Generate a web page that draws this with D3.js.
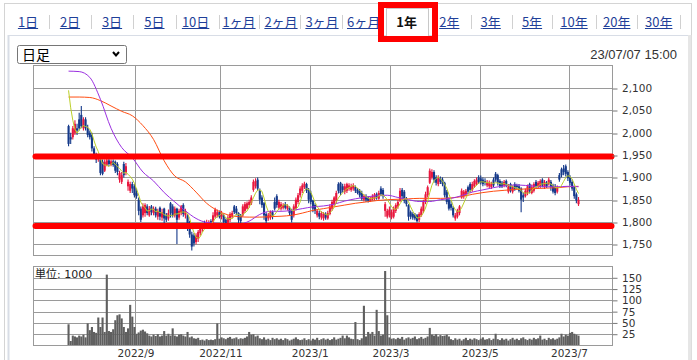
<!DOCTYPE html>
<html><head><meta charset="utf-8">
<script src="https://cdn.jsdelivr.net/npm/d3@7"></script>
<style>body{margin:0;background:#fff}svg{display:block}</style>
</head><body>
<script>
// ---- data ----
const tabLabels = ["1日","2日","3日","5日","10日","1ヶ月","2ヶ月","3ヶ月","6ヶ月","1年","2年","3年","5年","10年","20年","30年"];
const selectedTab = "1年";
const periodLabel = "日足";
const timestamp = "23/07/07 15:00";
const volumeUnit = "単位: 1000";
const priceTicks = [1750,1800,1850,1900,1950,2000,2050,2100];
const volumeTicks = [25,50,75,100,125,150];
const tickLabels = ["2022/9","2022/11","2023/1","2023/3","2023/5","2023/7"];
const tickIndex = [32,72,114,152,194,236];   // trading-day index of first session of month
const redLevels = [1947,1791];
const preCloses = [2180,2150,2120,2050];
const opens = [2015,1990,1990,2000,2010,2030,2040,2010,2030,2010,
2000,1995,1965,1950,1942,1940,1935,1915,1928,1938,
1928,1936,1935,1930,1895,1890,1930,1910,1880,1870,
1885,1880,1865,1850,1830,1815,1820,1835,1815,1835,
1820,1830,1812,1832,1810,1830,1815,1808,1842,1835,
1815,1830,1810,1820,1838,1815,1815,1800,1772,1770,
1755,1762,1775,1785,1798,1788,1795,1802,1798,1812,
1815,1822,1812,1815,1805,1798,1805,1812,1835,1830,
1820,1815,1815,1825,1830,1838,1842,1872,1880,1895,
1870,1855,1842,1818,1808,1810,1822,1845,1858,1832,
1830,1832,1840,1830,1832,1825,1815,1830,1845,1860,
1870,1878,1885,1872,1865,1848,1838,1815,1820,1810,
1808,1818,1808,1818,1830,1840,1848,1885,1888,1880,
1868,1870,1875,1872,1875,1878,1872,1870,1865,1850,
1858,1855,1848,1850,1852,1862,1852,1875,1872,1825,
1812,1815,1810,1812,1825,1835,1848,1872,1868,1852,
1838,1822,1818,1816,1815,1805,1815,1825,1845,1860,
1888,1900,1912,1900,1885,1898,1895,1888,1868,1850,
1840,1832,1808,1812,1820,1855,1858,1862,1878,1885,
1872,1880,1885,1900,1898,1895,1892,1882,1880,1878,
1895,1908,1905,1892,1888,1882,1892,1868,1885,1868,
1885,1882,1880,1875,1860,1858,1865,1885,1865,1870,
1890,1878,1880,1895,1878,1888,1885,1890,1882,1880,
1868,1905,1918,1920,1925,1912,1900,1890,1878,1862,1840];
const highs = [2018,2000,2015,2028,2020,2045,2060,2035,2035,2018,
2005,2000,1970,1955,1950,1942,1940,1940,1942,1942,
1940,1940,1938,1934,1915,1912,1935,1932,1895,1890,
1890,1885,1875,1855,1835,1842,1842,1840,1836,1838,
1835,1834,1830,1835,1830,1832,1820,1828,1845,1840,
1835,1832,1830,1838,1842,1830,1818,1803,1778,1775,
1775,1782,1795,1798,1803,1805,1804,1806,1822,1832,
1828,1826,1825,1818,1808,1815,1822,1825,1838,1836,
1822,1818,1840,1845,1846,1850,1860,1895,1898,1900,
1875,1860,1845,1822,1820,1826,1826,1855,1862,1850,
1845,1842,1845,1840,1835,1830,1840,1855,1865,1880,
1887,1890,1888,1876,1870,1850,1842,1828,1826,1824,
1822,1822,1825,1840,1850,1858,1870,1889,1890,1886,
1886,1888,1887,1886,1887,1882,1876,1874,1870,1862,
1862,1858,1856,1862,1865,1866,1870,1880,1876,1845,
1830,1835,1828,1835,1842,1850,1876,1876,1872,1856,
1840,1826,1822,1820,1818,1822,1835,1850,1868,1882,
1920,1918,1916,1905,1905,1902,1900,1890,1872,1855,
1848,1836,1820,1830,1838,1875,1872,1874,1882,1889,
1890,1896,1900,1905,1904,1900,1898,1894,1893,1890,
1900,1912,1908,1896,1892,1894,1895,1885,1888,1882,
1889,1886,1885,1878,1866,1875,1884,1888,1884,1889,
1894,1892,1896,1898,1894,1892,1900,1894,1886,1885,
1882,1910,1922,1928,1929,1916,1905,1895,1882,1866,1856];
const lows = [1970,1975,1985,1995,1995,2005,2010,2005,2005,1990,
1985,1958,1945,1932,1935,1905,1905,1912,1925,1925,
1925,1924,1910,1905,1888,1885,1900,1905,1870,1865,
1865,1855,1852,1815,1800,1810,1812,1815,1812,1815,
1815,1810,1805,1804,1803,1786,1800,1803,1810,1810,
1810,1751,1805,1815,1812,1808,1780,1765,1736,1745,
1750,1755,1770,1778,1785,1785,1792,1790,1795,1808,
1810,1808,1806,1795,1785,1795,1800,1808,1818,1815,
1798,1796,1812,1820,1828,1832,1838,1868,1875,1870,
1840,1832,1805,1796,1803,1805,1806,1826,1832,1828,
1826,1828,1828,1826,1815,1799,1810,1826,1840,1855,
1865,1874,1865,1842,1840,1822,1818,1810,1806,1805,
1803,1805,1805,1815,1825,1835,1842,1864,1860,1866,
1862,1865,1870,1868,1870,1865,1862,1855,1848,1846,
1845,1844,1845,1848,1848,1850,1850,1858,1852,1812,
1808,1810,1806,1808,1820,1830,1845,1850,1842,1835,
1803,1806,1805,1804,1799,1800,1812,1820,1840,1855,
1885,1895,1888,1882,1880,1885,1880,1855,1840,1826,
1826,1810,1803,1808,1815,1852,1852,1858,1862,1866,
1868,1876,1882,1885,1884,1880,1882,1878,1876,1874,
1878,1890,1882,1876,1876,1878,1878,1864,1866,1864,
1870,1874,1866,1822,1845,1855,1860,1864,1862,1866,
1876,1875,1876,1878,1874,1876,1882,1870,1864,1860,
1864,1890,1900,1905,1902,1892,1882,1870,1852,1842,1836];
const closes = [1975,1985,2010,2020,2005,2010,2015,2030,2010,1995,
1990,1965,1950,1940,1945,1910,1908,1935,1938,1930,
1936,1928,1915,1912,1910,1905,1905,1925,1890,1885,
1875,1860,1858,1825,1805,1835,1838,1820,1830,1822,
1830,1815,1825,1812,1822,1808,1805,1820,1820,1815,
1830,1805,1825,1835,1818,1825,1790,1772,1745,1752,
1770,1778,1790,1795,1790,1800,1800,1796,1815,1828,
1822,1812,1820,1800,1792,1810,1818,1820,1822,1820,
1805,1802,1835,1840,1842,1845,1855,1890,1892,1875,
1850,1838,1815,1802,1815,1822,1812,1830,1838,1845,
1840,1838,1832,1836,1820,1805,1835,1850,1860,1875,
1882,1886,1870,1850,1845,1830,1825,1825,1812,1820,
1818,1810,1820,1835,1845,1855,1865,1870,1865,1872,
1880,1885,1882,1880,1882,1870,1865,1860,1852,1858,
1850,1848,1852,1858,1862,1855,1865,1862,1858,1840,
1825,1828,1822,1830,1838,1845,1870,1858,1848,1840,
1812,1812,1810,1808,1802,1818,1830,1845,1862,1878,
1915,1912,1895,1888,1898,1890,1885,1860,1845,1830,
1832,1815,1815,1825,1835,1870,1868,1870,1868,1872,
1885,1892,1895,1890,1888,1885,1888,1890,1888,1885,
1882,1895,1888,1880,1880,1890,1882,1880,1870,1878,
1875,1878,1870,1850,1855,1870,1880,1870,1878,1885,
1880,1888,1892,1882,1890,1880,1895,1878,1868,1865,
1878,1895,1905,1912,1908,1898,1888,1875,1858,1848,1850];
const volumes = [47,10,22,20,18,22,20,24,18,49,
34,41,30,28,62,41,62,30,157,32,
30,36,56,67,69,60,41,30,38,90,
64,41,26,29,33,35,31,27,22,20,
24,21,25,20,22,32,22,26,22,38,
22,20,24,25,22,20,30,18,20,16,
15,17,12,13,11,14,12,13,12,14,
49,15,18,16,14,17,19,15,16,18,
14,16,15,17,20,30,24,25,20,22,
16,14,18,13,15,12,17,14,16,13,
15,12,16,14,11,13,15,18,14,12,
13,16,12,14,11,15,13,17,12,14,
16,13,15,12,14,18,13,15,17,22,
16,22,18,15,14,52,14,12,16,88,
20,30,26,30,22,79,32,22,24,165,
67,18,15,16,14,17,15,19,13,16,
18,15,17,20,14,16,19,15,17,20,
39,24,22,25,20,23,21,22,24,20,
14,12,16,13,15,11,14,17,12,15,
13,16,14,12,15,18,13,14,16,12,
15,26,14,12,16,13,15,11,14,17,
13,15,12,16,18,14,12,15,13,17,
14,16,22,13,15,12,17,14,16,13,
15,18,26,20,24,22,28,30,26,24,22];
// 25-day and 75-day moving averages, read every 5 sessions
const maSampleIndex = d3.range(0, 241, 5);
const ma25 = [2138,2137,2124,2075,2010,1967,1944,1912,1892,1866,1845,1825,1808,1799,1797,1796,1795,1802,1817,1824,1824,1826,1830,1834,1836,1840,1847,1852,1856,1859,1860,1855,1850,1846,1846,1850,1853,1859,1867,1872,1877,1881,1883,1882,1880,1879,1879,1880,1879];
const ma75 = [2080,2080,2079,2072,2060,2048,2038,2016,1985,1937,1903,1890,1867,1842,1826,1816,1812,1811,1811,1812,1813,1815,1820,1826,1830,1834,1838,1842,1845,1848,1850,1851,1852,1853,1853,1853,1854,1857,1862,1866,1869,1871,1873,1874,1875,1876,1877,1879,1880];

// ---- drawing ----
const W = 697, H = 360;
const svg = d3.select("body").append("svg").attr("width", W).attr("height", H);
const cjk = "'Noto Sans CJK JP','Noto Sans',sans-serif";
const axisFont = "'DejaVu Sans','Noto Sans CJK JP',sans-serif";

// outer container & panel frame
svg.append("rect").attr("x",4.5).attr("y",3.5).attr("width",687).attr("height",370).attr("fill","#fff").attr("stroke","#d4d4d4");
svg.append("line").attr("x1",8).attr("x2",691).attr("y1",35.5).attr("y2",35.5).attr("stroke","#d8dde6");
svg.append("line").attr("x1",8.5).attr("x2",8.5).attr("y1",35).attr("y2",H).attr("stroke","#d8dde6").attr("stroke-width",2);
svg.append("rect").attr("x",688).attr("y",35).attr("width",3.5).attr("height",H-35).attr("fill","#e6e6e6");

// tabs
const tabCenters = [28,70,112,154.4,195.6,239,281,322,363.6,406.7,449.3,490.7,532,574,616.7,658.7];
const tabSeps = [49,91,133.3,175.6,219,258.7,300,342,471,512,552.4,595.6,637,680];
svg.append("g").selectAll("line").data(tabSeps).join("line")
  .attr("x1",d=>Math.round(d)+0.5).attr("x2",d=>Math.round(d)+0.5).attr("y1",15).attr("y2",29)
  .attr("stroke","#d0d0d0");
svg.append("rect").attr("x",386.5).attr("y",8.5).attr("width",42).attr("height",28).attr("fill","#fff").attr("stroke","#c8c8c8");
const tabG = svg.append("g");
tabLabels.forEach((t,i)=>{
  const sel = t === selectedTab;
  const tx = tabG.append("text").attr("x",tabCenters[i]).attr("y",26.5).attr("text-anchor","middle")
    .attr("font-family",cjk).attr("font-size",13).attr("font-weight",sel?"bold":"normal")
    .attr("fill",sel?"#111":"#1f3f99").text(t);
  if(!sel){
    const w = tx.node().getComputedTextLength();
    tabG.append("line").attr("x1",tabCenters[i]-w/2).attr("x2",tabCenters[i]+w/2)
      .attr("y1",28.5).attr("y2",28.5).attr("stroke","#1f3f99").attr("stroke-width",1);
  }
});
svg.append("rect").attr("x",381).attr("y",5).attr("width",54).attr("height",34)
  .attr("fill","none").attr("stroke","#ff0000").attr("stroke-width",6);

// dropdown
svg.append("rect").attr("x",17.5).attr("y",45.5).attr("width",109).attr("height",18).attr("rx",2)
  .attr("fill","#fff").attr("stroke","#767676");
svg.append("text").attr("x",22).attr("y",60).attr("font-family",cjk).attr("font-size",14).attr("fill","#000").text(periodLabel);
svg.append("path").attr("d","M113,52 L116,55.5 L119,52").attr("fill","none").attr("stroke","#000").attr("stroke-width",2);

svg.append("text").attr("x",677).attr("y",58.5).attr("text-anchor","end")
  .attr("font-family","'Liberation Sans',Arial,sans-serif").attr("font-size",13).attr("fill","#333").text(timestamp);

// scales
const L = 33.5, R = 612.5;
const x = d3.scaleLinear().domain([-16.5, 256]).range([L, R]);
const y = d3.scaleLinear().domain([1725, 2150]).range([255.5, 65.8]);
const yv = d3.scaleLinear().domain([0, 175]).range([345.5, 266.5]);
const monthPos = tickIndex.map(i => i - 0.5);
const px = v => Math.round(v) + 0.5;
const gridC = "#9a9a9a";

// price panel
const pg = svg.append("g");
pg.selectAll(".hg").data(priceTicks).join("line").attr("x1",L).attr("x2",R)
  .attr("y1",d=>px(y(d))).attr("y2",d=>px(y(d))).attr("stroke",gridC);
pg.selectAll(".vg").data(monthPos).join("line").attr("x1",d=>px(x(d))).attr("x2",d=>px(x(d)))
  .attr("y1",65.5).attr("y2",255.5).attr("stroke",gridC);
pg.append("rect").attr("x",L).attr("y",65.5).attr("width",R-L).attr("height",190).attr("fill","none").attr("stroke",gridC);

// candles
const upC = "#e8173e", dnC = "#15398a";
const cg = svg.append("g");
closes.forEach((c,i)=>{
  const o = opens[i], col = c >= o ? upC : dnC, cx = x(i);
  cg.append("line").attr("x1",cx).attr("x2",cx).attr("y1",y(highs[i])).attr("y2",y(lows[i]))
    .attr("stroke",col).attr("stroke-width",1.1);
  const top = y(Math.max(o,c)), bot = y(Math.min(o,c));
  cg.append("rect").attr("x",cx-1.05).attr("width",2.1).attr("y",top).attr("height",Math.max(1,bot-top)).attr("fill",col);
});

// moving averages
const allC = preCloses.concat(closes);
const ma5 = closes.map((c,i)=> d3.mean(allC.slice(i, i+5)));
const lineIdx = d3.line().x((d,i)=>x(i)).y(d=>y(d));
const lineS = d3.line().x((d,i)=>x(maSampleIndex[i])).y(d=>y(d)).curve(d3.curveMonotoneX);
svg.append("path").attr("d",lineS(ma75)).attr("fill","none").attr("stroke","#ff4d12").attr("stroke-width",1);
svg.append("path").attr("d",lineS(ma25)).attr("fill","none").attr("stroke","#9b30e0").attr("stroke-width",1);
svg.append("path").attr("d",lineIdx(ma5)).attr("fill","none").attr("stroke","#bccf2a").attr("stroke-width",1);

// red annotation lines
svg.append("g").selectAll("line").data(redLevels).join("line")
  .attr("x1",L+2).attr("x2",R-1).attr("y1",d=>y(d)).attr("y2",d=>y(d))
  .attr("stroke","#ff0000").attr("stroke-width",6).attr("stroke-linecap","round");

// price axis
const ya = svg.append("g").attr("transform",`translate(${R},0)`)
  .call(d3.axisRight(y).tickValues(priceTicks).tickSize(5).tickPadding(4.5).tickFormat(d3.format(",")));
ya.select(".domain").remove();
ya.selectAll("line").attr("stroke","#777").attr("transform",d=>`translate(0,${px(y(d))-y(d)})`);
ya.selectAll("text").attr("font-family",axisFont).attr("font-size",10.5).attr("fill","#333");

// volume panel
const vg = svg.append("g");
vg.selectAll(".hg").data(volumeTicks).join("line").attr("x1",L).attr("x2",R)
  .attr("y1",d=>px(yv(d))).attr("y2",d=>px(yv(d))).attr("stroke",gridC);
vg.selectAll(".vg").data(monthPos).join("line").attr("x1",d=>px(x(d))).attr("x2",d=>px(x(d)))
  .attr("y1",266.5).attr("y2",345.5).attr("stroke",gridC);
vg.selectAll(".bar").data(volumes).join("rect")
  .attr("x",(d,i)=>x(i)-1.05).attr("width",2.1).attr("y",d=>yv(d)).attr("height",d=>yv(0)-yv(d)).attr("fill","#5f5f5f");
vg.append("rect").attr("x",L).attr("y",266.5).attr("width",R-L).attr("height",79).attr("fill","none").attr("stroke",gridC);
vg.append("text").attr("x",35).attr("y",278).attr("font-family",axisFont).attr("font-size",11).attr("fill","#222").text(volumeUnit);

const va = svg.append("g").attr("transform",`translate(${R},0)`)
  .call(d3.axisRight(yv).tickValues(volumeTicks).tickSize(5).tickPadding(4.5));
va.select(".domain").remove();
va.selectAll("line").attr("stroke","#777");
va.selectAll("text").attr("font-family",axisFont).attr("font-size",10.5).attr("fill","#333");

// date axis
const xa = svg.append("g").attr("transform","translate(0,345.5)")
  .call(d3.axisBottom(x).tickValues(monthPos).tickSize(0).tickPadding(4.5).tickFormat((d,i)=>tickLabels[i]));
xa.select(".domain").remove();
xa.selectAll("text").attr("font-family",axisFont).attr("font-size",10.5).attr("fill","#333");
</script>
</body></html>
